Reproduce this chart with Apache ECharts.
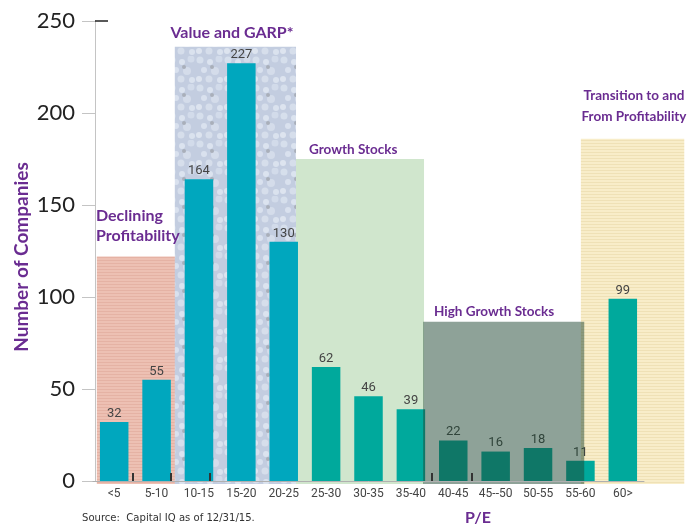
<!DOCTYPE html>
<html><head><meta charset="utf-8">
<script src="https://cdn.jsdelivr.net/npm/echarts@6/dist/echarts.min.js"></script>
<style>html,body{margin:0;padding:0;background:#fff}#c{width:698px;height:527px}</style>
</head><body><div id="c"></div>
<script>
// ---- data ----
const categories = ['<5','5-10','10-15','15-20','20-25','25-30','30-35','35-40','40-45','45--50','50-55','55-60','60>'];
const companies = [32,55,164,227,130,62,46,39,22,16,18,11,99];
const yMin = 0, yMax = 250, yStep = 50;
// P/E zones (in category-axis units) and their heights (number of companies)
const zoneNames = ['Declining\nProfitability','Value and GARP*','Growth Stocks','High Growth Stocks','Transition to and\nFrom Profitability'];
const zoneStart = [0.09, 1.93, 4.79, 7.79, 11.51];
const zoneEnd   = [1.96, 4.79, 7.81, 11.59, 13.95];
const zoneTop   = [122, 236, 175, 86.5, 186];
// category boundaries that carry a small dark tick mark in the original
const markedBoundaries = [0.95, 1.85, 2.75, 8, 8.95];

// ---- styles ----
const PURPLE = '#6a2c91';
const CYAN = '#00a7be', TEAL = '#00a99c';

function linePattern(base, line, step) {
  const c = document.createElement('canvas'); c.width = 8; c.height = step;
  const g = c.getContext('2d'); g.fillStyle = base; g.fillRect(0,0,8,step);
  g.fillStyle = line; g.fillRect(0,step-1,8,1); return c;
}
function dotPattern() {
  const c = document.createElement('canvas'); c.width = 28; c.height = 28;
  const g = c.getContext('2d'); g.fillStyle = '#c3cde0'; g.fillRect(0,0,28,28);
  const pts = [[4,4,3.5,'#d6dfec'],[14,6,3,'#dbe3ef'],[23,3,3.5,'#d2dbea'],[8,14,3,'#d9e1ee'],[19,15,4,'#d4dcea'],
               [3,23,3,'#dde4ef'],[13,23,3.5,'#d6deeb'],[24,24,3,'#dae2ee'],[16,11,2,'#a9afba']];
  pts.forEach(([x,y,r,col]) => { g.fillStyle = col; g.beginPath(); g.arc(x,y,r,0,Math.PI*2); g.fill(); });
  return c;
}
const zoneFill = [
  {image: linePattern('#edc0b3', '#e5b2a4', 3), repeat: 'repeat'},
  {image: dotPattern(), repeat: 'repeat'},
  '#d0e6cd',
  'rgba(30,70,50,0.5)',
  {image: linePattern('#f8edc9', '#efe1b6', 3), repeat: 'repeat'}
];

const zoneData = zoneNames.map((n, i) => [zoneStart[i], zoneEnd[i], zoneTop[i], i]);
const backZones = zoneData.filter(d => d[3] !== 3);
const frontZones = zoneData.filter(d => d[3] === 3);

function renderZone(params, api) {
  const i = api.value(3);
  const p0 = api.coord([api.value(0), 0]);
  const p1 = api.coord([api.value(1), api.value(2)]);
  return {type: 'rect', shape: {x: p0[0], y: p1[1], width: p1[0]-p0[0], height: p0[1]-p1[1]+3},
          style: {fill: zoneFill[i]}};
}

const chart = echarts.init(document.getElementById('c'), null, {renderer: 'canvas'});
const FONT = 'Lato, "Open Sans", sans-serif';
chart.setOption({
  animation: false,
  grid: {left: 93, width: 551, top: 21, height: 460},
  xAxis: [{
    type: 'category', data: categories, boundaryGap: true, z: 5,
    axisLine: {lineStyle: {color: '#b0b0b0', width: 1}},
    axisTick: {show: false},
    axisLabel: {color: '#444', fontSize: 12, margin: 7, fontFamily: 'Roboto, sans-serif', interval: 0}
  }, {
    type: 'value', min: 0, max: categories.length, show: false
  }],
  yAxis: {
    type: 'value', min: yMin, max: yMax, interval: yStep, offset: -2,
    axisLine: {show: true, lineStyle: {color: '#c4c4c4'}},
    axisTick: {show: true, length: 13, lineStyle: {color: '#c4c4c4'}},
    splitLine: {show: false},
    axisLabel: {color: '#222', fontSize: 22, margin: 20, fontFamily: FONT}
  },
  series: [{
    type: 'custom', xAxisIndex: 1, yAxisIndex: 0, z: 1, clip: false,
    encode: {x: [0,1], y: 2}, data: backZones, renderItem: renderZone, silent: true
  }, {
    type: 'bar', xAxisIndex: 0, data: companies, barWidth: 28.5, z: 2,
    itemStyle: {color: (p) => p.dataIndex < 5 ? CYAN : TEAL},
    label: {show: true, position: 'top', distance: 2, color: '#444', fontSize: 13, fontFamily: 'Roboto, sans-serif'}
  }, {
    type: 'custom', xAxisIndex: 1, yAxisIndex: 0, z: 3, clip: false,
    encode: {x: [0,1], y: 2}, data: frontZones, renderItem: renderZone, silent: true
  }]
});

const titleStyle = (size) => ({fill: PURPLE, font: `bold ${size}px ${FONT}`});
const yTop = chart.convertToPixel({yAxisIndex: 0}, yMax);
const yZero = chart.convertToPixel({yAxisIndex: 0}, 0);
const axisX = chart.convertToPixel({xAxisIndex: 1}, 0) + 2;
const tickMarks = markedBoundaries.map(b => {
  const x = Math.round(chart.convertToPixel({xAxisIndex: 1}, b));
  return {type: 'line', shape: {x1: x, y1: yZero - 8, x2: x, y2: yZero}, style: {stroke: '#333', lineWidth: 2}, z: 10};
});
chart.setOption({graphic: tickMarks.concat([
  {type: 'line', shape: {x1: axisX, y1: yTop, x2: axisX + 13, y2: yTop}, style: {stroke: '#222', lineWidth: 1.5}, z: 10},
  {type: 'text', x: 96, y: 226, style: Object.assign({text: zoneNames[0], lineHeight: 20, textVerticalAlign: 'middle', textAlign: 'left'}, titleStyle(16)), z: 10},
  {type: 'text', x: 232, y: 33, style: Object.assign({text: zoneNames[1], textAlign: 'center', textVerticalAlign: 'middle'}, titleStyle(16)), z: 10},
  {type: 'text', x: 309, y: 150, style: Object.assign({text: zoneNames[2], textAlign: 'left', textVerticalAlign: 'middle'}, titleStyle(13.5)), z: 10},
  {type: 'text', x: 434, y: 312, style: Object.assign({text: zoneNames[3], textAlign: 'left', textVerticalAlign: 'middle'}, titleStyle(13.5)), z: 10},
  {type: 'text', x: 634, y: 106, style: Object.assign({text: zoneNames[4], lineHeight: 21, textAlign: 'center', textVerticalAlign: 'middle'}, titleStyle(13.5)), z: 10},
  {type: 'text', x: 22, y: 257, rotation: Math.PI/2, style: Object.assign({text: 'Number of Companies', textAlign: 'center', textVerticalAlign: 'middle'}, titleStyle(19)), z: 10},
  {type: 'text', x: 478, y: 518, style: Object.assign({text: 'P/E', textAlign: 'center', textVerticalAlign: 'middle'}, titleStyle(16)), z: 10},
  {type: 'text', x: 82, y: 518, style: {text: 'Source:  Capital IQ as of 12/31/15.', textAlign: 'left', textVerticalAlign: 'middle', fill: '#333', font: '11.2px "Liberation Sans Narrow", "DejaVu Sans Condensed", Roboto, sans-serif'}, z: 10}
])});
</script>
</body></html>
